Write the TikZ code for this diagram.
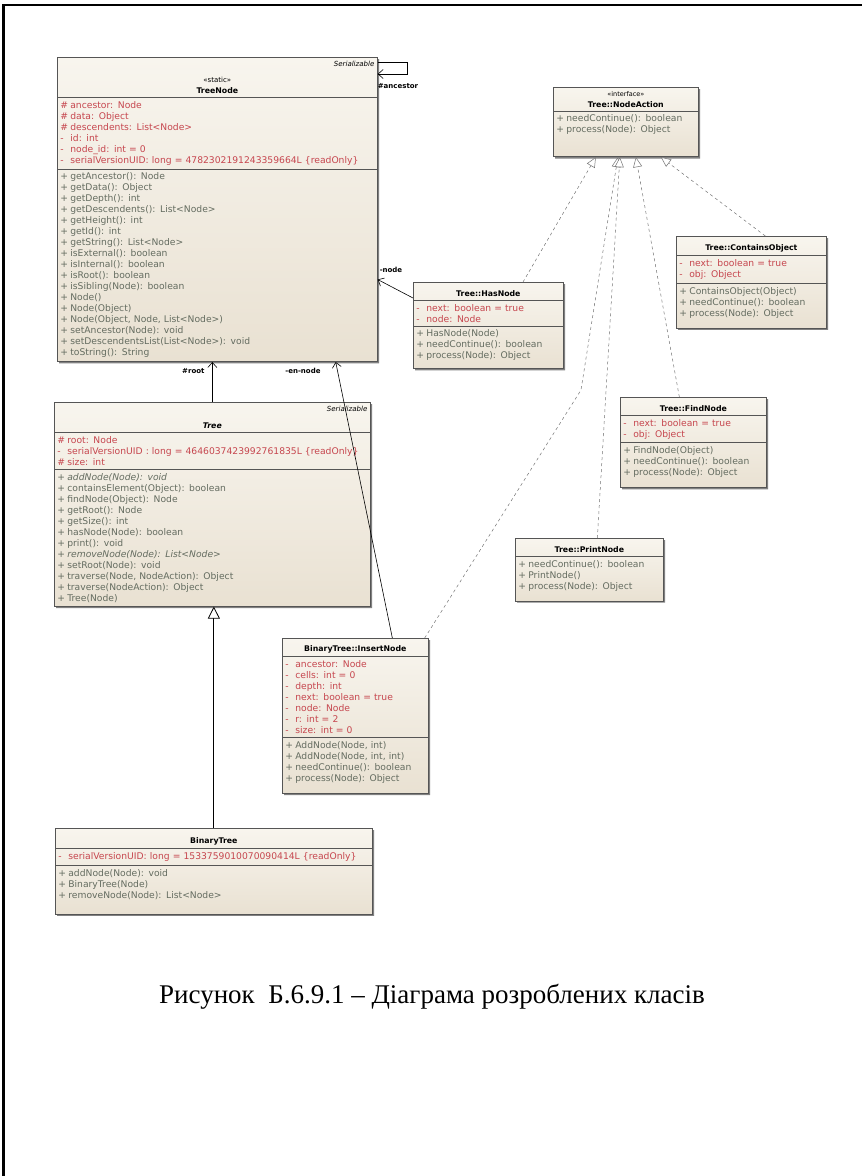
\documentclass[tikz,border=0pt]{standalone}
\usepackage{fontspec}
\setmainfont{Liberation Serif}
\newfontfamily\umlfont{DejaVu Sans}
\usetikzlibrary{shapes.multipart, arrows.meta, shadows}

\definecolor{creamtop}{RGB}{248,245,238}
\definecolor{creambot}{RGB}{233,225,210}
\definecolor{attrred}{RGB}{198,70,78}
\definecolor{methgray}{RGB}{100,108,96}
\definecolor{edgegray}{RGB}{85,85,85}

% visibility column, header strut and bottom padding
\newcommand{\vis}[1]{\makebox[10pt][l]{#1}}
\newcommand{\hstrut}[1]{\rule{0pt}{#1}}
\newcommand{\pad}[1]{\rule[-#1]{0pt}{0pt}}

\begin{document}
\begin{tikzpicture}[x=1pt, y=-1pt,
  umlclass/.style={rectangle split, rectangle split parts=3, anchor=north west,
    draw=edgegray, line width=0.7pt, top color=creamtop, bottom color=creambot,
    drop shadow={shadow xshift=1.8pt, shadow yshift=-1.8pt, fill=black!55, opacity=0.9},
    font=\umlfont\fontsize{9.2}{11}\selectfont, inner xsep=3pt, inner ysep=3.5pt},
  umliface/.style={umlclass, rectangle split parts=2},
  assoc/.style={-{Straight Barb[length=5pt, width=9pt]}, line width=0.6pt},
  gen/.style={-{Triangle[open, length=12pt, width=12pt, fill=white]}, line width=0.8pt},
  real/.style={dash pattern=on 3pt off 3pt, draw=black!55, line width=0.5pt,
    -{Triangle[open, length=10pt, width=9pt, fill=white]}},
  lbl/.style={font=\umlfont\bfseries\fontsize{7}{8}\selectfont}
]
\useasboundingbox (0,0) rectangle (862,1176);

% page frame
\draw[line width=2.2pt] (3.5,1180) -- (3.5,5) -- (866,5);

% --- classes ---
\node[umlclass, text width=314pt] (treenode) at (57,57) {%
  \centering
  \hspace*{\fill}{\itshape\fontsize{7}{8}\selectfont Serializable}\\[5pt]
  {\fontsize{7}{9}\selectfont «static»}\\
  {\bfseries\fontsize{7.8}{9}\selectfont TreeNode}\par
  \nodepart{two}\color{attrred}%
  \vis{\#}ancestor: Node\\
  \vis{\#}data: Object\\
  \vis{\#}descendents: List<Node>\\
  \vis{-}id: int\\
  \vis{-}node\_id: int = 0\\
  \vis{-}serialVersionUID: long = 4782302191243359664L \{readOnly\}
  \nodepart{three}\color{methgray}%
  \vis{+}getAncestor(): Node\\
  \vis{+}getData(): Object\\
  \vis{+}getDepth(): int\\
  \vis{+}getDescendents(): List<Node>\\
  \vis{+}getHeight(): int\\
  \vis{+}getId(): int\\
  \vis{+}getString(): List<Node>\\
  \vis{+}isExternal(): boolean\\
  \vis{+}isInternal(): boolean\\
  \vis{+}isRoot(): boolean\\
  \vis{+}isSibling(Node): boolean\\
  \vis{+}Node()\\
  \vis{+}Node(Object)\\
  \vis{+}Node(Object, Node, List<Node>)\\
  \vis{+}setAncestor(Node): void\\
  \vis{+}setDescendentsList(List<Node>): void\\
  \vis{+}toString(): String};

\node[umlclass, text width=310pt] (tree) at (54,402) {%
  \centering
  \hspace*{\fill}{\itshape\fontsize{7}{8}\selectfont Serializable}\\[6pt]
  {\bfseries\itshape\fontsize{7.8}{9}\selectfont Tree}\par
  \nodepart{two}\color{attrred}%
  \vis{\#}root: Node\\
  \vis{-}serialVersionUID : long = 4646037423992761835L \{readOnly\}\\
  \vis{\#}size: int
  \nodepart{three}\color{methgray}%
  \vis{+}\textit{addNode(Node): void}\\
  \vis{+}containsElement(Object): boolean\\
  \vis{+}findNode(Object): Node\\
  \vis{+}getRoot(): Node\\
  \vis{+}getSize(): int\\
  \vis{+}hasNode(Node): boolean\\
  \vis{+}print(): void\\
  \vis{+}\textit{removeNode(Node): List<Node>}\\
  \vis{+}setRoot(Node): void\\
  \vis{+}traverse(Node, NodeAction): Object\\
  \vis{+}traverse(NodeAction): Object\\
  \vis{+}Tree(Node)};

\node[umlclass, text width=311pt] (binarytree) at (55,828) {%
  \centering\hstrut{11pt}{\bfseries\fontsize{7.8}{9}\selectfont BinaryTree}\par
  \nodepart{two}\color{attrred}%
  \vis{-}serialVersionUID: long = 1533759010070090414L \{readOnly\}
  \nodepart{three}\color{methgray}%
  \vis{+}addNode(Node): void\\
  \vis{+}BinaryTree(Node)\\
  \vis{+}removeNode(Node): List<Node>\pad{12pt}};

\node[umlclass, text width=140pt] (insertnode) at (282,638) {%
  \centering\hstrut{9pt}{\bfseries\fontsize{7.8}{9}\selectfont BinaryTree::InsertNode}\par
  \nodepart{two}\color{attrred}%
  \vis{-}ancestor: Node\\
  \vis{-}cells: int = 0\\
  \vis{-}depth: int\\
  \vis{-}next: boolean = true\\
  \vis{-}node: Node\\
  \vis{-}r: int = 2\\
  \vis{-}size: int = 0
  \nodepart{three}\color{methgray}%
  \vis{+}AddNode(Node, int)\\
  \vis{+}AddNode(Node, int, int)\\
  \vis{+}needContinue(): boolean\\
  \vis{+}process(Node): Object\pad{8pt}};

\node[umliface, text width=139pt] (nodeaction) at (553,87) {%
  \centering
  {\fontsize{6.5}{8}\selectfont «interface»}\\
  {\bfseries\fontsize{7.8}{9}\selectfont Tree::NodeAction}\par
  \nodepart{two}\color{methgray}%
  \vis{+}needContinue(): boolean\\
  \vis{+}process(Node): Object\pad{20pt}};

\node[umlclass, text width=144pt] (hasnode) at (413,282) {%
  \centering\hstrut{10pt}{\bfseries\fontsize{7.8}{9}\selectfont Tree::HasNode}\par
  \nodepart{two}\color{attrred}%
  \vis{-}next: boolean = true\\
  \vis{-}node: Node
  \nodepart{three}\color{methgray}%
  \vis{+}HasNode(Node)\\
  \vis{+}needContinue(): boolean\\
  \vis{+}process(Node): Object\pad{6pt}};

\node[umlclass, text width=144pt] (containsobj) at (676,236) {%
  \centering\hstrut{10pt}{\bfseries\fontsize{7.8}{9}\selectfont Tree::ContainsObject}\par
  \nodepart{two}\color{attrred}%
  \vis{-}next: boolean = true\\
  \vis{-}obj: Object
  \nodepart{three}\color{methgray}%
  \vis{+}ContainsObject(Object)\\
  \vis{+}needContinue(): boolean\\
  \vis{+}process(Node): Object\pad{8pt}};

\node[umlclass, text width=140pt] (findnode) at (620,397) {%
  \centering\hstrut{10pt}{\bfseries\fontsize{7.8}{9}\selectfont Tree::FindNode}\par
  \nodepart{two}\color{attrred}%
  \vis{-}next: boolean = true\\
  \vis{-}obj: Object
  \nodepart{three}\color{methgray}%
  \vis{+}FindNode(Object)\\
  \vis{+}needContinue(): boolean\\
  \vis{+}process(Node): Object\pad{8pt}};

\node[umliface, text width=142pt] (printnode) at (515,538) {%
  \centering\hstrut{10pt}{\bfseries\fontsize{7.8}{9}\selectfont Tree::PrintNode}\par
  \nodepart{two}\color{methgray}%
  \vis{+}needContinue(): boolean\\
  \vis{+}PrintNode()\\
  \vis{+}process(Node): Object\pad{8pt}};

% --- associations ---
\draw[assoc] ([yshift=-5pt]treenode.north east) -- ++(30,0) -- ++(0,12)
  -- ([yshift=-17pt]treenode.north east);
\node[lbl, anchor=north] (ancestorlbl) at (398,80) {\#ancestor};

\draw[assoc] (tree.north) -- (tree.north |- treenode.south);
\node[lbl, anchor=east] (rootlbl) at (208,371) {\#root};

\draw[assoc] ([xshift=37pt]insertnode.north) -- ([xshift=-42pt]treenode.south east);
\node[lbl] (ennodelbl) at (303,371) {-en-node};

\draw[assoc] ([yshift=-16pt]hasnode.north west) -- ([yshift=-70pt]treenode.east);
\node[lbl] (nodelbl) at (391,270) {-node};

% --- generalization ---
\draw[gen] (binarytree.north) -- (binarytree.north |- tree.south);

% --- realizations ---
\coordinate (insbend) at (581,390);
\draw[real] ([xshift=110pt]hasnode.north west) -- ([xshift=-30pt]nodeaction.south);
\draw[real] ([xshift=-4pt]insertnode.north east) -- (insbend) -- ([xshift=-8pt]nodeaction.south);
\draw[real] ([xshift=8pt]printnode.north) -- ([xshift=-6pt]nodeaction.south);
\draw[real] ([xshift=-14pt]findnode.north) -- ([xshift=10pt]nodeaction.south);
\draw[real] ([xshift=14pt]containsobj.north) -- ([xshift=35pt]nodeaction.south);

% --- caption ---
\node[font=\fontsize{27}{32}\selectfont] (caption) at (432,997)
  {Рисунок\ \ Б.6.9.1 – Діаграма розроблених класів};
\end{tikzpicture}
\end{document}
